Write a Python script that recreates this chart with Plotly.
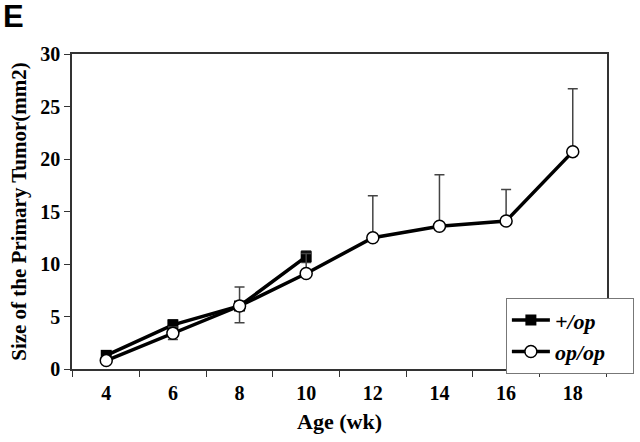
import plotly.graph_objects as go

ages = ["4", "6", "8", "10", "12", "14", "16", "18"]

het_ages = ["4", "6", "8", "10"]
het_vals = [1.3, 4.2, 6.0, 10.7]
het_err_plus = [0.3, 0.5, 0.0, 0.55]
het_err_minus = [0.3, 0.5, 0.0, 0.55]

op_vals = [0.8, 3.4, 6.0, 9.1, 12.5, 13.6, 14.1, 20.7]
op_err_plus = [0.3, 0.6, 1.8, 1.9, 4.0, 4.9, 3.0, 6.0]
op_err_minus = [0.0, 0.6, 1.6, 0.0, 0.0, 0.0, 0.0, 0.0]

y_ticks = [0, 5, 10, 15, 20, 25, 30]

serif = "Liberation Serif, Times New Roman, serif"
pad = "&nbsp;" * 4

fig = go.Figure()
fig.add_trace(go.Scatter(
    x=het_ages, y=het_vals, mode="lines+markers", name="<b><i>+/op</i></b>" + pad,
    line=dict(color="black", width=3.5),
    marker=dict(symbol="square", size=11, color="black"),
    error_y=dict(type="data", symmetric=False, array=het_err_plus, arrayminus=het_err_minus,
                 color="#444", thickness=1.5, width=5),
))
fig.add_trace(go.Scatter(
    x=ages, y=op_vals, mode="lines+markers", name="<b><i>op/op</i></b>" + pad,
    line=dict(color="black", width=3.5),
    marker=dict(symbol="circle", size=12, color="white", line=dict(color="black", width=1.5)),
    error_y=dict(type="data", symmetric=False, array=op_err_plus, arrayminus=op_err_minus,
                 color="#444", thickness=1.5, width=5),
))

fig.update_layout(
    width=640, height=442,
    margin=dict(l=72, r=33, t=54, b=73, autoexpand=False),
    paper_bgcolor="white", plot_bgcolor="white",
    font=dict(family=serif, color="black"),
    showlegend=True,
    legend=dict(x=0.811, y=0.225, xanchor="left", yanchor="top",
                bordercolor="#777", borderwidth=1, bgcolor="white",
                font=dict(family=serif, size=22, color="black"),
                tracegroupgap=0, itemwidth=38),
    xaxis=dict(type="category", categoryorder="array", categoryarray=ages,
               tickson="boundaries", ticks="outside", ticklen=6, tickcolor="#333",
               showline=True, linecolor="#333", linewidth=1.5, mirror=True,
               showgrid=False, zeroline=False, automargin=False, ticklabelstandoff=5,
               tickfont=dict(family=serif, size=20, color="black", weight="bold"),
               title=dict(text="<b>Age (wk)</b>", font=dict(family=serif, size=22, color="black"), standoff=11)),
    yaxis=dict(range=[0, 30], tickvals=y_ticks, ticks="outside", ticklen=6, tickcolor="#333",
               showline=True, linecolor="#333", linewidth=1.5, mirror=True,
               showgrid=False, zeroline=False, automargin=False,
               tickfont=dict(family=serif, size=20, color="black", weight="bold"),
               title=dict(text="<b>Size of the Primary Tumor(mm2)</b>",
                          font=dict(family=serif, size=21, color="black"), standoff=8)),
)
fig.add_annotation(text="<b>E</b>", xref="paper", yref="paper", x=-0.133, y=1.18,
                   xanchor="left", yanchor="top", showarrow=False,
                   font=dict(family="Liberation Sans, Arial, sans-serif", size=31, color="black"))

fig.write_html("out.html", config={"displayModeBar": False},
               post_script="document.body.style.margin='0';document.body.style.overflow='hidden';")
